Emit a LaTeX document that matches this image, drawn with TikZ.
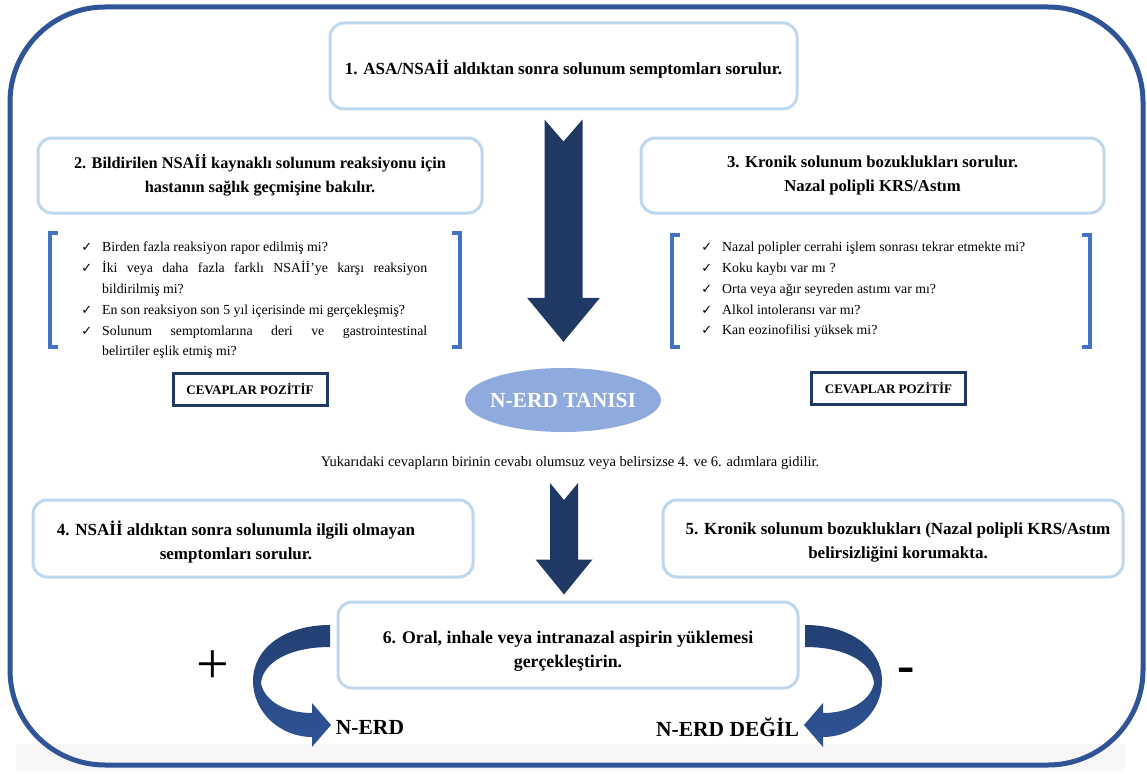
\documentclass[tikz,border=0pt]{standalone}
\usepackage{fontspec}
\setmainfont{Liberation Serif}
\newfontfamily\symfont{DejaVu Sans}
\usetikzlibrary{calc,shapes.geometric}
\definecolor{framebl}{HTML}{2F5597}
\definecolor{boxbl}{HTML}{BDD7EE}
\definecolor{navy}{HTML}{1F3864}
\definecolor{tanisifill}{HTML}{8FAADC}
\definecolor{brack}{HTML}{4472C4}
\definecolor{turntop}{HTML}{233F72}
\definecolor{turnbot}{HTML}{2F5597}
\newcommand{\boxfont}[1]{\fontsize{#1}{24}\selectfont\bfseries}
\newcommand{\listfont}{\fontsize{13.8}{20.8}\selectfont
  \hyphenpenalty=10000\relax\spaceskip=\fontdimen2\font plus \fontdimen2\font\relax}
\tikzset{
  stepbox/.style={draw=boxbl, line width=3pt, rounded corners=14pt, fill=white, align=center,
    inner sep=0pt, font=\boxfont{16.5}},
  steptext/.style={align=center, inner sep=0pt, font=\boxfont{17}},
  answerbox/.style={draw=navy, line width=3pt, minimum width=154pt, minimum height=32pt,
    inner sep=0pt, font=\fontsize{13}{15}\selectfont\bfseries},
  checklist/.style={text width=325pt, align=justify, inner sep=0pt, anchor=north west,
    font=\listfont},
  bracket/.style={draw=brack, line width=4pt},
  arrowfill/.style={fill=navy},
  resultlabel/.style={inner sep=0pt, font=\fontsize{21.5}{24}\selectfont\bfseries},
}
\newcommand{\chk}{\noindent\llap{{\symfont\fontsize{13}{13}\selectfont ✓}\hspace{10pt}}}
% block arrow: from, to, shaft half width, head half width, head length, notch
\newcommand{\blockarrow}[6]{%
  \fill[arrowfill] let \p1=(#1), \p2=(#2) in
    (\x1-#3pt,\y1) -- (\x1,\y1-#6pt) -- (\x1+#3pt,\y1) -- (\x1+#3pt,\y2+#5pt)
    -- (\x1+#4pt,\y2+#5pt) -- (\x1,\y2) -- (\x1-#4pt,\y2+#5pt) -- (\x1-#3pt,\y2+#5pt) -- cycle;}
\begin{document}
\begin{tikzpicture}[x=1pt,y=-1pt]
\useasboundingbox (0,0) rectangle (1147,773);
% frame
\fill[black!3] (16,744) rectangle (1125,771);
\draw[framebl, line width=5pt, rounded corners=95pt] (10,7) rectangle (1143,765);
% steps 1-3
\node[stepbox, minimum width=467pt, minimum height=86pt] (box1) at (563.5,66) {};
\node[steptext] at ([yshift=-3pt]box1.center) {1. ASA/NSAİİ aldıktan sonra solunum semptomları sorulur.};
\node[stepbox, minimum width=444pt, minimum height=75pt, font=\boxfont{16.3}] (box2) at (260,175.5) {2. Bildirilen NSAİİ kaynaklı solunum reaksiyonu için\\hastanın sağlık geçmişine bakılır.};
\node[stepbox, minimum width=463pt, minimum height=75pt, font=\boxfont{16.7}] (box3) at (872.5,175.5) {3. Kronik solunum bozuklukları sorulur.\\Nazal polipli KRS/Astım};
% question lists
\node[checklist] (list2) at (102,242) {\chk Birden fazla reaksiyon rapor edilmiş mi?\par
  \chk İki veya daha fazla farklı NSAİİ’ye karşı reaksiyon bildirilmiş mi?\par
  \chk En son reaksiyon son 5 yıl içerisinde mi gerçekleşmiş?\par
  \chk Solunum semptomlarına deri ve gastrointestinal\linebreak belirtiler eşlik etmiş mi?};
\node[checklist] (list3) at (722,242) {\chk Nazal polipler cerrahi işlem sonrası tekrar etmekte mi?\par
  \chk Koku kaybı var mı ?\par
  \chk Orta veya ağır seyreden astımı var mı?\par
  \chk Alkol intoleransı var mı?\par
  \chk Kan eozinofilisi yüksek mi?};
\draw[bracket] (58,233) -- (50,233) -- (50,347) -- (58,347);
\draw[bracket] (452,233) -- (460,233) -- (460,347) -- (452,347);
\draw[bracket] (680,235) -- (672,235) -- (672,347) -- (680,347);
\draw[bracket] (1082,235) -- (1090,235) -- (1090,347) -- (1082,347);
\node[answerbox] (pos2) at (250,389) {CEVAPLAR POZİTİF};
\node[answerbox] (pos3) at (888.5,388) {CEVAPLAR POZİTİF};
% diagnosis
\node[ellipse, fill=tanisifill, minimum width=196pt, minimum height=64pt, inner sep=0pt] (tanisi) at (563,400) {};
\node[resultlabel, text=white] at (tanisi.center) {N-ERD TANISI};
\coordinate (a1top) at ($(box1.south)+(0,9)$);
\coordinate (a1tip) at ($(tanisi.north)+(0,-26)$);
\blockarrow{a1top}{a1tip}{19}{36.5}{44}{22}
\node[inner sep=0pt, font=\fontsize{14.5}{16}\selectfont] (note) at (570,463) {Yukarıdaki cevapların birinin cevabı olumsuz veya belirsizse 4. ve 6. adımlara gidilir.};
% steps 4-6
\node[stepbox, minimum width=440pt, minimum height=77pt] (box4) at (253,538.5) {};
\node[steptext] at ([xshift=-17pt,yshift=-4pt]box4.center) {4. NSAİİ aldıktan sonra solunumla ilgili olmayan\\semptomları sorulur.};
\node[stepbox, minimum width=460pt, minimum height=77pt] (box5) at (893,538.5) {};
\node[steptext] at ([xshift=5pt,yshift=-4pt]box5.center) {5. Kronik solunum bozuklukları (Nazal polipli KRS/Astım\\belirsizliğini korumakta.};
\node[stepbox, minimum width=460pt, minimum height=86pt] (box6) at (568,645) {};
\node[steptext, font=\boxfont{17.8}] at ([yshift=-6pt]box6.center) {6. Oral, inhale veya intranazal aspirin yüklemesi\\gerçekleştirin.};
\coordinate (a2top) at (564,483);
\coordinate (a2tip) at ($(box6.north)+(0,-6)$);
\blockarrow{a2top}{a2tip}{14}{28.5}{35}{17}
% results
\shade[top color=turntop, bottom color=turnbot] (330,625) .. controls (285,625) and (253,648) .. (253,681)
  .. controls (253,712) and (280,737) .. (312,737) -- (312,747) -- (331,725) -- (312,703) -- (312,713)
  .. controls (284,713) and (264,700) .. (261,683) .. controls (263,662) and (290,647) .. (330,647) -- cycle;
\shade[top color=turntop, bottom color=turnbot] (805,625) .. controls (850,625) and (882,648) .. (882,681)
  .. controls (882,712) and (855,737) .. (823,737) -- (823,747) -- (804,725) -- (823,703) -- (823,713)
  .. controls (851,713) and (871,700) .. (874,683) .. controls (872,662) and (845,647) .. (805,647) -- cycle;
\node[inner sep=0pt, font=\fontsize{58}{58}\selectfont] (plus) at (213,667) {+};
\node[inner sep=0pt, font=\fontsize{52}{52}\selectfont\bfseries] (minus) at (906,675) {-};
\node[resultlabel] (nerd) at (370,727) {N-ERD};
\node[resultlabel] (nerdnot) at (727.5,727) {N-ERD DEĞİL};
\end{tikzpicture}
\end{document}
